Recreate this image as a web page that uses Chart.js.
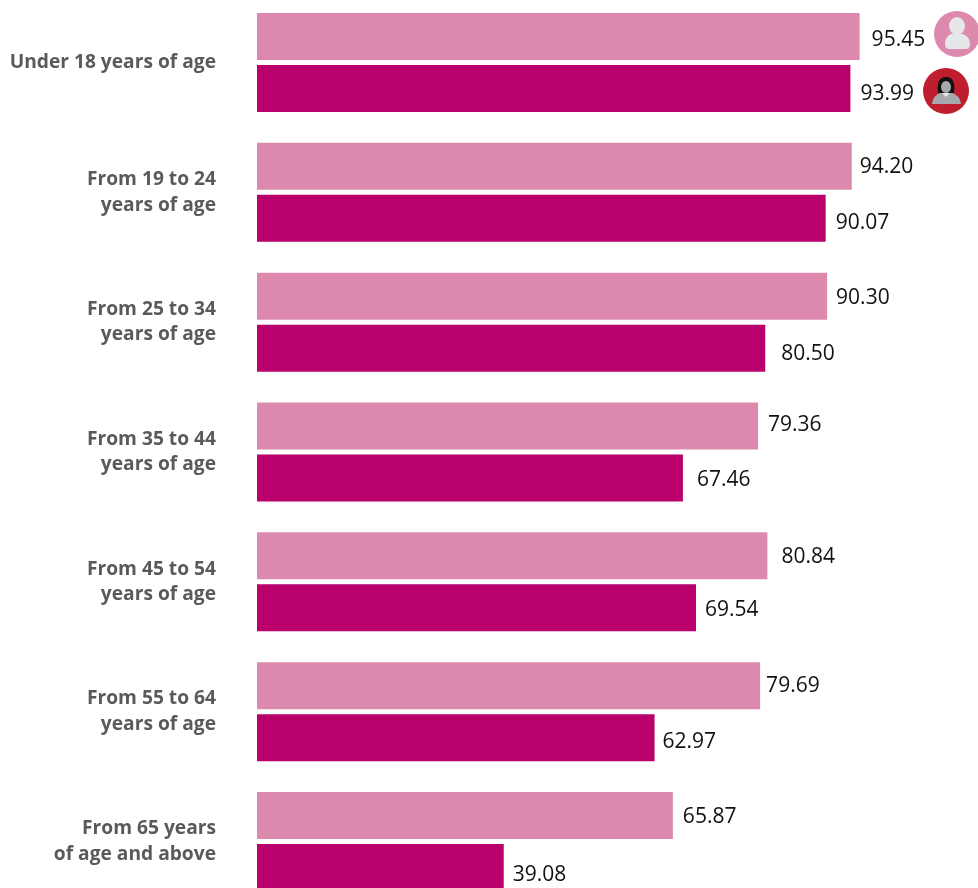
<!DOCTYPE html>
<html>
<head>
<meta charset="utf-8">
<title>Age groups</title>
<script src="https://cdn.jsdelivr.net/npm/chart.js@4/dist/chart.umd.min.js"></script>
<style>
html, body { margin: 0; padding: 0; background: #fff; overflow: hidden; height: 888px; }
/* canvas is taller than the window: the last bar is cut off in the original */
canvas { display: block; position: absolute; left: 0; top: -3px; }
</style>
</head>
<body>
<canvas id="ageChart" width="978" height="912"></canvas>
<script>
var categories = [
    ['Under 18 years of age'],
    ['From 19 to 24', 'years of age'],
    ['From 25 to 34', 'years of age'],
    ['From 35 to 44', 'years of age'],
    ['From 45 to 54', 'years of age'],
    ['From 55 to 64', 'years of age'],
    ['From 65 years', 'of age and above']
];
var menValues = [95.45, 94.20, 90.30, 79.36, 80.84, 79.69, 65.87];
var womenValues = [93.99, 90.07, 80.50, 67.46, 69.54, 62.97, 39.08];

// hand placed value labels in the original: nudge from the bar end / bar centre
var menNudgeX = [12, 8, 9, 10, 14, 6, 10];
var menNudgeY = [3, 0.5, 2, -0.5, 1.5, 0.5, 1.5];
var womenNudgeX = [10, 10, 16, 14, 9, 8, 9];
var womenNudgeY = [6, 5, 6, 2, 2, 4, 8];

var lightPink = '#dd89ae';
var darkPink = '#b9006b';

// Value labels next to the bars
var valueLabels = {
    id: 'valueLabels',
    afterDatasetsDraw: function(chart) {
        var ctx = chart.ctx;
        var nudgeX = [menNudgeX, womenNudgeX];
        var nudgeY = [menNudgeY, womenNudgeY];
        ctx.save();
        ctx.font = '21px "Open Sans"';
        ctx.fillStyle = '#111';
        ctx.textAlign = 'left';
        ctx.textBaseline = 'middle';
        chart.data.datasets.forEach(function(ds, i) {
            chart.getDatasetMeta(i).data.forEach(function(bar, j) {
                ctx.fillText(ds.data[j].toFixed(2), bar.x + nudgeX[i][j], bar.y + nudgeY[i][j]);
            });
        });
        ctx.restore();
    }
};

// The two round person icons beside the first group
var personIcons = {
    id: 'personIcons',
    afterDraw: function(chart) {
        var ctx = chart.ctx;
        ctx.save();
        ctx.translate(0, 3); // canvas sits 3px above the page

        // man
        ctx.fillStyle = lightPink;
        ctx.beginPath();
        ctx.arc(957, 34, 23, 0, Math.PI * 2);
        ctx.fill();
        ctx.fillStyle = '#e6e7e8';
        ctx.beginPath();
        ctx.ellipse(957, 26, 8, 9, 0, 0, Math.PI * 2);
        ctx.fill();
        ctx.beginPath();
        ctx.moveTo(951, 34);
        ctx.lineTo(963, 34);
        ctx.quadraticCurveTo(970, 37, 970, 44);
        ctx.quadraticCurveTo(970, 49, 966, 49);
        ctx.lineTo(949, 49);
        ctx.quadraticCurveTo(945, 49, 945, 44);
        ctx.quadraticCurveTo(945, 37, 951, 34);
        ctx.fill();

        // woman
        ctx.fillStyle = '#be1e2d';
        ctx.beginPath();
        ctx.arc(946, 91, 23, 0, Math.PI * 2);
        ctx.fill();
        ctx.fillStyle = '#a7a9ac';
        ctx.beginPath();
        ctx.moveTo(942, 92);
        ctx.lineTo(950, 92);
        ctx.quadraticCurveTo(960, 95, 961, 104);
        ctx.lineTo(932, 104);
        ctx.quadraticCurveTo(933, 95, 942, 92);
        ctx.fill();
        ctx.fillStyle = '#111';
        ctx.beginPath();
        ctx.moveTo(938, 93);
        ctx.quadraticCurveTo(936, 77, 946, 77);
        ctx.quadraticCurveTo(956, 77, 954, 93);
        ctx.closePath();
        ctx.fill();
        ctx.fillStyle = '#a7a9ac';
        ctx.beginPath();
        ctx.ellipse(946, 87, 5, 6, 0, 0, Math.PI * 2);
        ctx.fill();
        ctx.fillStyle = '#e6e7e8';
        ctx.beginPath();
        ctx.moveTo(942, 93);
        ctx.lineTo(950, 93);
        ctx.lineTo(946, 97);
        ctx.closePath();
        ctx.fill();

        ctx.restore();
    }
};

new Chart(document.getElementById('ageChart'), {
    type: 'bar',
    data: {
        labels: categories,
        datasets: [
            { label: 'Men', data: menValues, backgroundColor: lightPink },
            { label: 'Women', data: womenValues, backgroundColor: darkPink }
        ]
    },
    options: {
        indexAxis: 'y',
        responsive: false,
        animation: false,
        layout: {
            padding: { top: 0.6, bottom: 2.6, left: 0, right: 0 }
        },
        datasets: {
            bar: { categoryPercentage: 0.801, barPercentage: 0.904 }
        },
        plugins: {
            legend: { display: false },
            tooltip: { enabled: false }
        },
        scales: {
            x: {
                display: false,
                min: 0,
                max: 114.2
            },
            y: {
                afterFit: function(scale) {
                    scale.width = 257;
                    // tick padding would otherwise be added above and below the axis
                    scale.paddingTop = 0;
                    scale.paddingBottom = 0;
                },
                grid: { display: false, drawTicks: false },
                border: { display: false },
                ticks: {
                    padding: 41,
                    color: '#595a5c',
                    font: { family: '"Open Sans"', weight: 'bold', size: 19.2, lineHeight: 1.33 },
                    autoSkip: false
                }
            }
        }
    },
    plugins: [valueLabels, personIcons]
});
</script>
</body>
</html>
